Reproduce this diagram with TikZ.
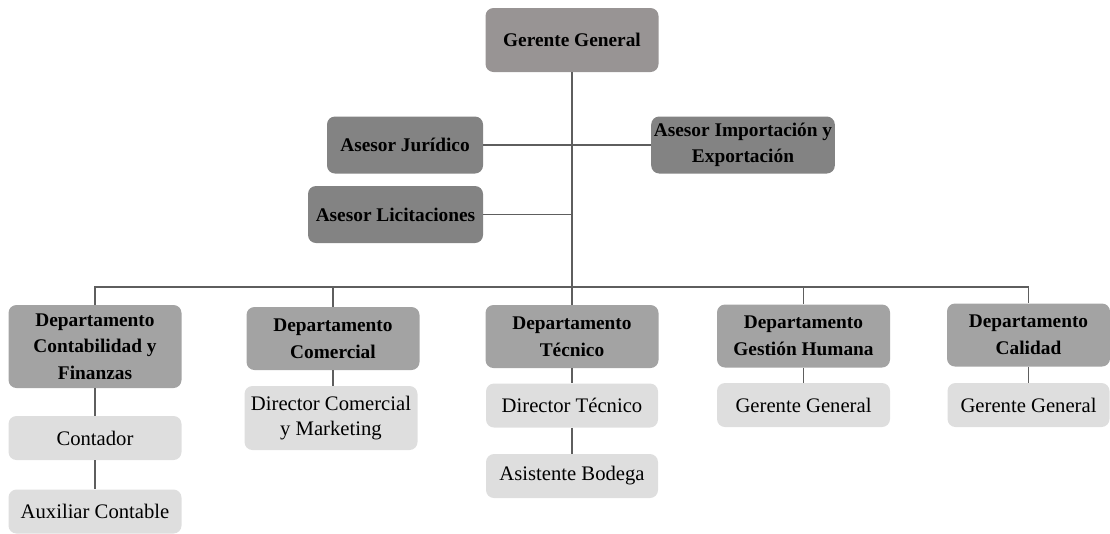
\documentclass[tikz,border=0pt]{standalone}
\usepackage{fontspec}
\setmainfont{Liberation Serif}
\usetikzlibrary{positioning}

\definecolor{topgray}{HTML}{989494}
\definecolor{advgray}{HTML}{838383}
\definecolor{deptgray}{HTML}{A3A3A3}
\definecolor{subgray}{HTML}{DEDEDE}
\definecolor{linegray}{HTML}{5E5E5E}

\begin{document}
\begin{tikzpicture}[
			x=0.75pt, y=-0.75pt,
			head/.style={rectangle, rounded corners=6pt, align=center, inner sep=2pt,
				font=\fontsize{14.5}{20}\selectfont\bfseries},
			boss/.style={head, fill=topgray, minimum width=129.75pt, minimum height=48pt},
			adviser/.style={head, fill=advgray, minimum height=42.75pt},
			dept/.style={head, fill=deptgray, minimum width=129.75pt, minimum height=47.25pt},
			staff/.style={rectangle, rounded corners=6pt, align=center, fill=subgray, inner sep=2pt,
				minimum width=129.75pt, minimum height=33pt, font=\fontsize{15.5}{19}\selectfont},
			link/.style={draw=linegray, line width=0.8pt}
			]
			\useasboundingbox (0,0) rectangle (1110,533);
			
			% Top management
			\node (gerente) [boss] at (572,40) {Gerente General};
			\coordinate (bus) at (572,287);
			
			% Advisers
			\node (juridico) [adviser, minimum width=117pt] at (405,145) {Asesor Jurídico};
			\node (import) [adviser, minimum width=127.5pt] at (743,145) {Asesor Importación y\\Exportación};
			\node (licita) [adviser, minimum width=131.25pt] at (395.5,214.5) {Asesor Licitaciones};
			
			% Departments
			\node (contab) [dept, minimum height=62.25pt] at (95,346.5) {Departamento\\Contabilidad y\\Finanzas};
			\node (comercial) [dept] at (333,338.5) {Departamento\\Comercial};
			\node (tecnico) [dept] at (572,336.5) {Departamento\\Técnico};
			\node (humana) [dept] at (803.5,336) {Departamento\\Gestión Humana};
			\node (calidad) [dept, minimum width=122.25pt] at (1028.5,335) {Departamento\\Calidad};
			
			% Staff
			\node (contador) [staff] at (95,438) {Contador};
			\node (auxiliar) [staff, below=21.75pt of contador] {Auxiliar Contable};
			\node (dircom) [staff, minimum height=48pt] at (331,418) {Director Comercial\\y Marketing};
			\node (dirtec) [staff, minimum width=129pt] at (572,405.5) {Director Técnico};
			\node (bodega) [staff, minimum width=129pt, below=19.5pt of dirtec] {Asistente Bodega};
			\node (gerhum) [staff] at (803.5,405) {Gerente General};
			\node (gercal) [staff, minimum width=121.5pt] at (1028.5,405) {Gerente General};
			
			% Lines management
			\draw [link] (gerente) -- (bus);
			\draw [link] (juridico) -- (import);
			\draw [link] (licita) -- (licita -| gerente);
			
			% Lines departments
			\draw [link] (contab.north) -- (contab.north |- bus) -- (calidad.north |- bus) -- (calidad.north);
			\draw [link] (comercial.north) -- (comercial.north |- bus);
			\draw [link] (tecnico.north) -- (bus);
			\draw [link] (humana.north) -- (humana.north |- bus);
			
			% Lines staff
			\draw [link] (contab) -- (contador);
			\draw [link] (contador) -- (auxiliar);
			\draw [link] (comercial) -- (comercial |- dircom.north);
			\draw [link] (tecnico) -- (dirtec);
			\draw [link] (dirtec) -- (bodega);
			\draw [link] (humana) -- (gerhum);
			\draw [link] (calidad) -- (gercal);
		\end{tikzpicture}
\end{document}
